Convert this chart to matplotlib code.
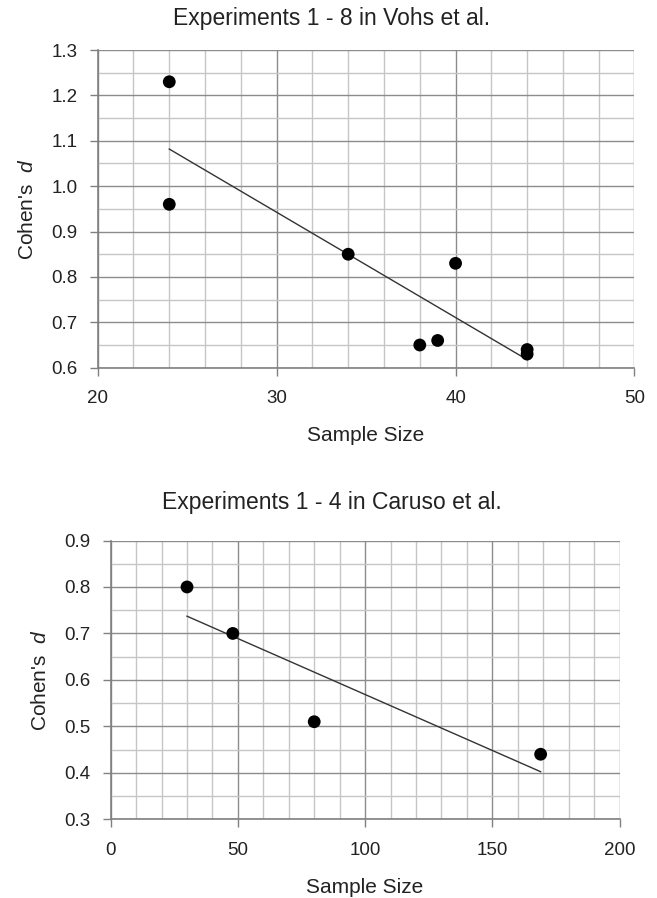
import matplotlib
matplotlib.use("Agg")
import matplotlib.pyplot as plt
import numpy as np

plt.rcParams['font.family'] = ['Liberation Sans', 'DejaVu Sans']
plt.rcParams['mathtext.fontset'] = 'custom'
plt.rcParams['mathtext.it'] = 'Liberation Sans:italic'
plt.rcParams['mathtext.rm'] = 'Liberation Sans'

# Vohs et al.
vohs_n = [24, 24, 34, 38, 39, 40, 44, 44]
vohs_d = [1.23, 0.96, 0.85, 0.65, 0.66, 0.83, 0.64, 0.63]
# Caruso et al.
caruso_n = [30, 48, 80, 169]
caruso_d = [0.80, 0.70, 0.51, 0.44]

titles = ["Experiments 1 - 8 in Vohs et al.", "Experiments 1 - 4 in Caruso et al."]

W, H = 657, 898
fig = plt.figure(figsize=(W / 100, H / 100), dpi=100)
ax1 = fig.add_axes([97.7/W, 1-367.7/H, (634.5-97.7)/W, (367.7-50)/H])
ax2 = fig.add_axes([110.7/W, 1-819.3/H, (619.5-110.7)/W, (819.3-540.5)/H])

MINOR_C = '#c6c6c6'
MAJOR_C = '#8c8c8c'
SPINE_C = '#808080'
TXT = '#222222'


def style(ax, xlim, ylim, xmaj, xmin_step, ymaj, ymin_step, xfmt, yfmt):
    ax.set_xlim(*xlim)
    ax.set_ylim(*ylim)
    xt = np.arange(xlim[0], xlim[1] + 1e-9, xmaj)
    yt = np.arange(ylim[0], ylim[1] + 1e-9, ymaj)
    ax.set_xticks(xt)
    ax.set_yticks(yt)
    ax.set_xticklabels([xfmt.format(v) for v in xt])
    ax.set_yticklabels([yfmt.format(v) for v in yt])
    ax.set_xticks(np.arange(xlim[0], xlim[1] + 1e-9, xmin_step), minor=True)
    ax.set_yticks(np.arange(ylim[0], ylim[1] + 1e-9, ymin_step), minor=True)
    ax.grid(which='minor', color=MINOR_C, lw=1.0)
    ax.grid(which='major', color=MAJOR_C, lw=1.0)
    ax.set_axisbelow(True)
    ax.tick_params(which='minor', length=0)
    ax.tick_params(which='major', length=5.5, width=1, color=SPINE_C,
                   labelsize=13.5, labelcolor=TXT)
    ax.tick_params(axis='x', pad=10.5)
    ax.tick_params(axis='y', pad=9)
    for s in ['top', 'right']:
        ax.spines[s].set_visible(False)
    for s in ['left', 'bottom']:
        ax.spines[s].set_color(SPINE_C)
        ax.spines[s].set_linewidth(1.2)
    ax.set_xlabel("Sample Size", fontsize=15, color=TXT, labelpad=14)
    ax.set_ylabel("Cohen's  $d$", fontsize=15, color=TXT, labelpad=10)


def draw(ax, n, d):
    ax.scatter(n, d, s=85, color='black', zorder=3, edgecolors='none')
    coef = np.polyfit(n, d, 1)
    xs = np.array([min(n), max(n)])
    ax.plot(xs, np.polyval(coef, xs), color='#333333', lw=1.0, zorder=2)


style(ax1, (20, 50), (0.6, 1.3), 10, 2, 0.1, 0.05, "{:.0f}", "{:.1f}")
draw(ax1, vohs_n, vohs_d)
style(ax2, (0, 200), (0.3, 0.9), 50, 10, 0.1, 0.05, "{:.0f}", "{:.1f}")
draw(ax2, caruso_n, caruso_d)

fig.text(332/W, 1-18/H, titles[0], fontsize=16.5, color=TXT, ha='center', va='center')
fig.text(332/W, 1-502/H, titles[1], fontsize=16.5, color=TXT, ha='center', va='center')

fig.savefig("out.png", dpi=100, facecolor='white')
